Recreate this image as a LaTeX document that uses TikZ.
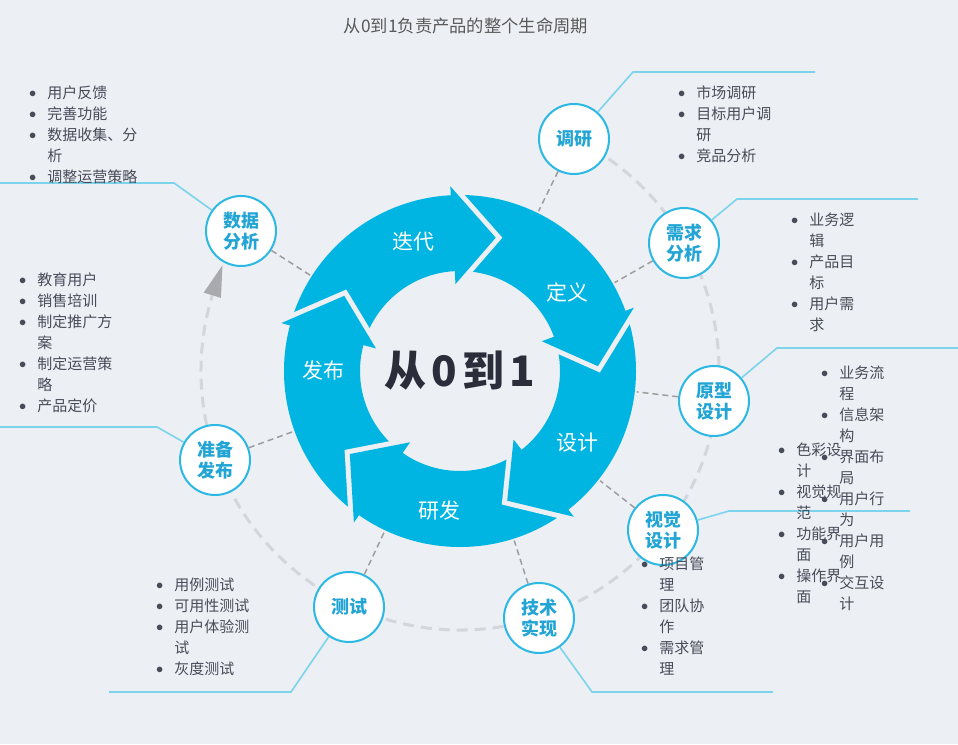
\documentclass[tikz,border=0pt]{standalone}
\usepackage{fontspec}
\setmainfont{Noto Sans CJK SC}
\usetikzlibrary{calc}
\definecolor{bgc}{HTML}{ECEFF4}
\definecolor{ringc}{HTML}{00B5E2}
\definecolor{nodeb}{HTML}{2BB8E3}
\definecolor{nodet}{HTML}{22A5D5}
\definecolor{leadc}{HTML}{7CD3EC}
\definecolor{spokec}{HTML}{9E9E9E}
\definecolor{cyclec}{HTML}{D3D6DB}
\definecolor{arrowc}{HTML}{A9AAAE}
\definecolor{textc}{HTML}{474C59}
\definecolor{titlec}{HTML}{5A5A5A}
\definecolor{darkc}{HTML}{2B2D3A}
\newcommand\bu{\raisebox{1.5pt}{$\bullet$}}
\newcommand\blist[1]{{\fontsize{15}{21}\selectfont\begin{tabular}{@{}l@{\hspace{11pt}}l@{}}#1\end{tabular}}}

\begin{document}
\begin{tikzpicture}[x=1pt,y=1pt,
  stage/.style={circle,draw=nodeb,line width=2pt,fill=white,minimum size=70pt,inner sep=0pt,
    text=nodet,align=center,font=\fontsize{18}{21}\selectfont\bfseries},
  seglabel/.style={text=white,font=\fontsize{21}{21}\selectfont},
  spoke/.style={draw=spokec,line width=1.5pt,dash pattern=on 6pt off 4pt},
  leader/.style={draw=leadc,line width=1.6pt},
  items/.style={anchor=north west,inner sep=0pt,text=textc}]
\useasboundingbox[fill=bgc] (0,0) rectangle (958,744);
\coordinate (C) at (460,373);
\node[font=\fontsize{17.3}{18}\selectfont,text=titlec] (title) at (466,718) {从0到1负责产品的整个生命周期};

% dashed cycle round the stages
\draw[cyclec,line width=3pt,dash pattern=on 11pt off 7pt] ($(C)+(63:259)$) arc[start angle=63,end angle=-197,radius=259];
\fill[arrowc] ($(C)+(156:260)$) -- ($(C)+(163:250)$) -- ($(C)+(163:268)$) -- cycle;

% ring of five arrows
\fill[ringc,even odd rule] (C) circle[radius=176] (C) circle[radius=100];
\foreach \b in {93,20,-52,-125,-195}{
  \draw[bgc,line width=10pt,miter limit=10] ($(C)+(\b:185)$) -- ($(C)+(\b-18:138)$) -- ($(C)+(\b:87)$);}
\foreach \b in {93,20,-52,-125,-195}{
  \fill[ringc] ($(C)+(\b:185)$) -- ($(C)+(\b-18:138)$) -- ($(C)+(\b:87)$) -- cycle;}
\node[seglabel] (diedai) at (413,502) {迭代};
\node[seglabel] (dingyi) at (567,452) {定义};
\node[seglabel] (sheji) at (577,301) {设计};
\node[seglabel] (yanfa) at (439,233) {研发};
\node[seglabel] (fabu) at (323,373) {发布};
\node[font=\fontsize{42}{42}\selectfont\bfseries,text=darkc] (core) at (C) {从\kern5pt 0\kern5pt 到\kern5pt 1};

% stages
\node[stage] (yanjiu) at (574,605) {调研};
\node[stage] (xuqiu) at (684,501) {需求\\分析};
\node[stage] (yuanxing) at (714,343) {原型\\设计};
\node[stage] (shijue) at (663,214) {视觉\\设计};
\node[stage] (jishu) at (539,126) {技术\\实现};
\node[stage] (ceshi) at (349,137) {测试};
\node[stage] (zhunbei) at (215,284) {准备\\发布};
\node[stage] (shuju) at (241,513) {数据\\分析};
\foreach \n in {yanjiu,xuqiu,yuanxing,shijue,jishu,ceshi,zhunbei,shuju}
  \draw[spoke] (\n) -- ($(C)!178pt!(\n)$);

% leaders
\draw[leader] (yanjiu) -- (633,672) -- (815,672);
\draw[leader] (xuqiu) -- (737,545) -- (918,545);
\draw[leader] (yuanxing) -- (777,396) -- (958,396);
\draw[leader] (shijue) -- (729,233) -- (910,233);
\draw[leader] (jishu) -- (592,52) -- (773,52);
\draw[leader] (ceshi) -- (291,52) -- (109,52);
\draw[leader] (zhunbei) -- (157,317) -- (0,317);
\draw[leader] (shuju) -- (174,561) -- (0,561);

% item lists
\node[items] (yanjiuL) at (678,660) {\blist{\bu&市场调研\\ \bu&目标用户调\\ &研\\ \bu&竞品分析}};
\node[items] (xuqiuL) at (791,533) {\blist{\bu&业务逻\\ &辑\\ \bu&产品目\\ &标\\ \bu&用户需\\ &求}};
\node[items] (yuanxingL) at (821,380) {\blist{\bu&业务流\\ &程\\ \bu&信息架\\ &构\\ \bu&界面布\\ &局\\ \bu&用户行\\ &为\\ \bu&用户用\\ &例\\ \bu&交互设\\ &计}};
\node[items] (shijueL) at (778,303) {\blist{\bu&色彩设\\ &计\\ \bu&视觉规\\ &范\\ \bu&功能界\\ &面\\ \bu&操作界\\ &面}};
\node[items] (jishuL) at (641,189) {\blist{\bu&项目管\\ &理\\ \bu&团队协\\ &作\\ \bu&需求管\\ &理}};
\node[items] (ceshiL) at (156,168) {\blist{\bu&用例测试\\ \bu&可用性测试\\ \bu&用户体验测\\ &试\\ \bu&灰度测试}};
\node[items] (zhunbeiL) at (19,473) {\blist{\bu&教育用户\\ \bu&销售培训\\ \bu&制定推广方\\ &案\\ \bu&制定运营策\\ &略\\ \bu&产品定价}};
\node[items] (shujuL) at (29,660) {\blist{\bu&用户反馈\\ \bu&完善功能\\ \bu&数据收集、分\\ &析\\ \bu&调整运营策略}};
\end{tikzpicture}
\end{document}
